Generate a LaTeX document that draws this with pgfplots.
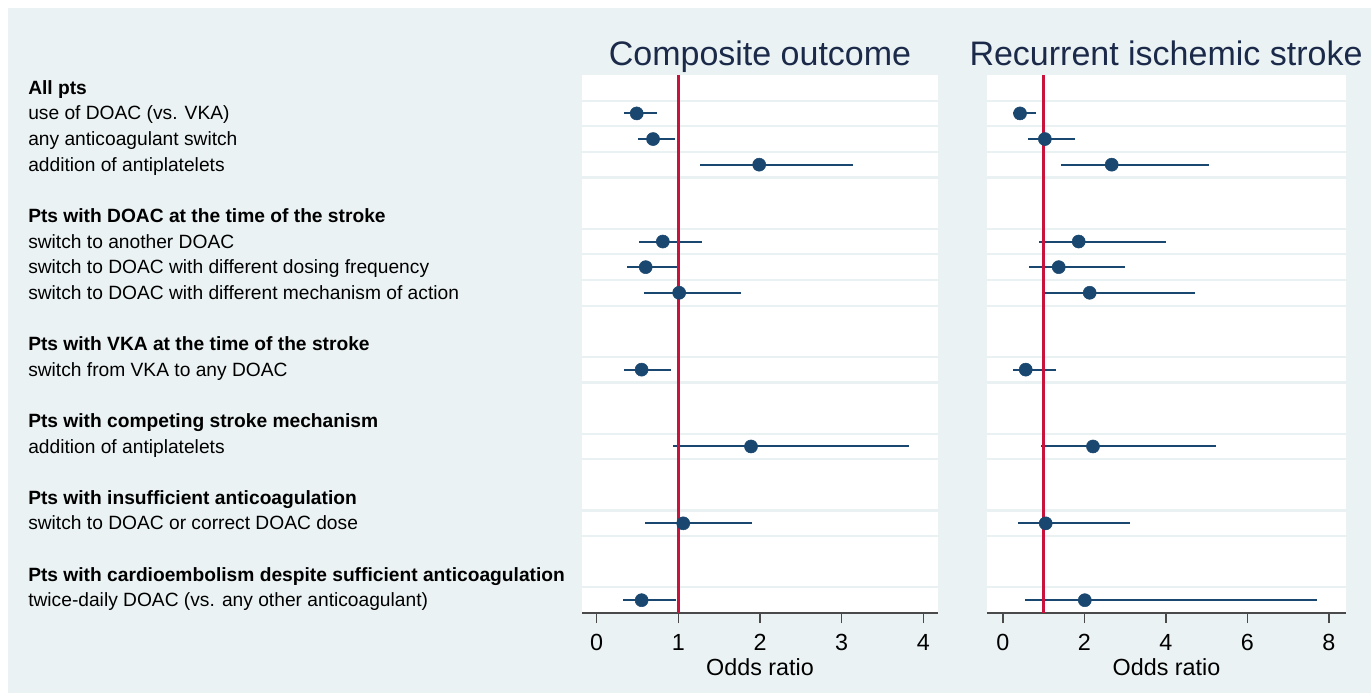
\documentclass[border=0pt]{standalone}
\usepackage{fontspec}
\setmainfont{Liberation Sans}
\usepackage{pgfplots}
\usepackage{pgfplotstable}
\pgfplotsset{compat=1.18}

\definecolor{bg}{HTML}{EAF2F3}
\definecolor{sepc}{HTML}{EAF1F3}
\definecolor{navy}{HTML}{1A476F}
\definecolor{refred}{HTML}{C8143C}
\definecolor{ttl}{HTML}{1C2A4A}
\definecolor{axgrey}{HTML}{4A4A4A}

% row: position from the top; or, lower and upper limit of the 95% CI
\pgfplotstableread{
row or lo hi
2 0.49 0.33 0.74
3 0.69 0.50 0.96
4 1.99 1.26 3.14
7 0.81 0.52 1.29
8 0.60 0.37 1.00
9 1.01 0.58 1.77
12 0.55 0.34 0.91
15 1.89 0.93 3.83
18 1.06 0.59 1.90
21 0.55 0.32 0.97
}\compdata

\pgfplotstableread{
row or lo hi
2 0.42 0.25 0.81
3 1.03 0.61 1.76
4 2.67 1.42 5.05
7 1.86 0.88 4.00
8 1.37 0.64 2.99
9 2.13 0.98 4.71
12 0.56 0.25 1.30
15 2.21 0.93 5.22
18 1.05 0.37 3.11
21 2.01 0.54 7.70
}\strokedata

\newcommand{\tickfont}{\fontsize{17.5}{20}\selectfont}
\newcommand{\lblfont}{\fontsize{14.4}{17}\selectfont}

\pgfplotsset{
  forest/.style={
    scale only axis, height=403.5pt,
    ymin=0.5, ymax=21.5, y dir=reverse,
    axis x line*=bottom, axis y line=none,
    axis background/.style={fill=white},
    clip=false,
    xtick align=outside, major tick length=7.5pt,
    x axis line style={draw=axgrey, line width=1.1pt, -},
    xtick style={draw=axgrey, line width=1.1pt},
    tick label style={font=\tickfont, text=black},
    xticklabel style={yshift=-5pt},
    /pgf/number format/assume math mode=true,
    xlabel={Odds ratio},
    xlabel style={font=\tickfont, text=black, yshift=1pt},
  },
  ci/.style={navy, line width=1.5pt, only marks, mark=none,
    error bars/.cd, x dir=both, x explicit, error mark=none,
    error bar style={navy, line width=1.5pt}},
  est/.style={only marks, mark=*, mark size=4.9pt,
    mark options={fill=navy, draw=navy}},
}

\newcommand{\seps}[2]{%
  \pgfplotsinvokeforeach{1.5,2.5,3.5,4.5,6.5,7.5,8.5,9.5,11.5,12.5,14.5,15.5,17.5,18.5,20.5}{%
    \draw[sepc, line width=1.6pt] (axis cs:#1,##1) -- (axis cs:#2,##1);}}

\newcommand{\lab}[2]{%
  \node[anchor=base west, font=\lblfont, text=black, inner sep=0pt]
    at (21pt, {(60 + (21.5-#1)*19.2143 - 4.9)*1pt}) {#2};}

\begin{document}
\begin{tikzpicture}
\fill[white] (0,0) rectangle (1028.25pt,519.75pt);
\fill[bg] (6pt,0) rectangle (1028.25pt,513.75pt);

\begin{axis}[forest, at={(436.5pt,60pt)}, anchor=south west, width=267pt,
  xmin=-0.18, xmax=4.18, xtick={0,1,2,3,4}]
  \seps{-0.18}{4.18}
  \addplot[ci] table[x=or, y=row,
    x error plus expr=\thisrow{hi}-\thisrow{or},
    x error minus expr=\thisrow{or}-\thisrow{lo}] {\compdata};
  \addplot[refred, line width=1.8pt] coordinates {(1,0.5) (1,21.5)};
  \addplot[est] table[x=or, y=row] {\compdata};
\end{axis}

\begin{axis}[forest, at={(740.25pt,60pt)}, anchor=south west, width=269.25pt,
  xmin=-0.39, xmax=8.42, xtick={0,2,4,6,8}]
  \seps{-0.39}{8.42}
  \addplot[ci] table[x=or, y=row,
    x error plus expr=\thisrow{hi}-\thisrow{or},
    x error minus expr=\thisrow{or}-\thisrow{lo}] {\strokedata};
  \addplot[refred, line width=1.8pt] coordinates {(1,0.5) (1,21.5)};
  \addplot[est] table[x=or, y=row] {\strokedata};
\end{axis}

\node[anchor=base, font=\fontsize{25.5}{30}\selectfont, text=ttl, inner sep=0pt]
  at (570pt,470.25pt) {Composite outcome};
\node[anchor=base, font=\fontsize{25.5}{30}\selectfont, text=ttl, inner sep=0pt]
  at (874.5pt,470.25pt) {Recurrent ischemic stroke};

\lab{1}{\textbf{All pts}}
\lab{2}{use of DOAC (vs. VKA)}
\lab{3}{any anticoagulant switch}
\lab{4}{addition of antiplatelets}
\lab{6}{\textbf{Pts with DOAC at the time of the stroke}}
\lab{7}{switch to another DOAC}
\lab{8}{switch to DOAC with different dosing frequency}
\lab{9}{switch to DOAC with different mechanism of action}
\lab{11}{\textbf{Pts with VKA at the time of the stroke}}
\lab{12}{switch from VKA to any DOAC}
\lab{14}{\textbf{Pts with competing stroke mechanism}}
\lab{15}{addition of antiplatelets}
\lab{17}{\textbf{Pts with insufficient anticoagulation}}
\lab{18}{switch to DOAC or correct DOAC dose}
\lab{20}{\textbf{Pts with cardioembolism despite sufficient anticoagulation}}
\lab{21}{twice-daily DOAC (vs. any other anticoagulant)}

\pgfresetboundingbox
\useasboundingbox (0,0) rectangle (1028.25pt,519.75pt);
\end{tikzpicture}
\end{document}
